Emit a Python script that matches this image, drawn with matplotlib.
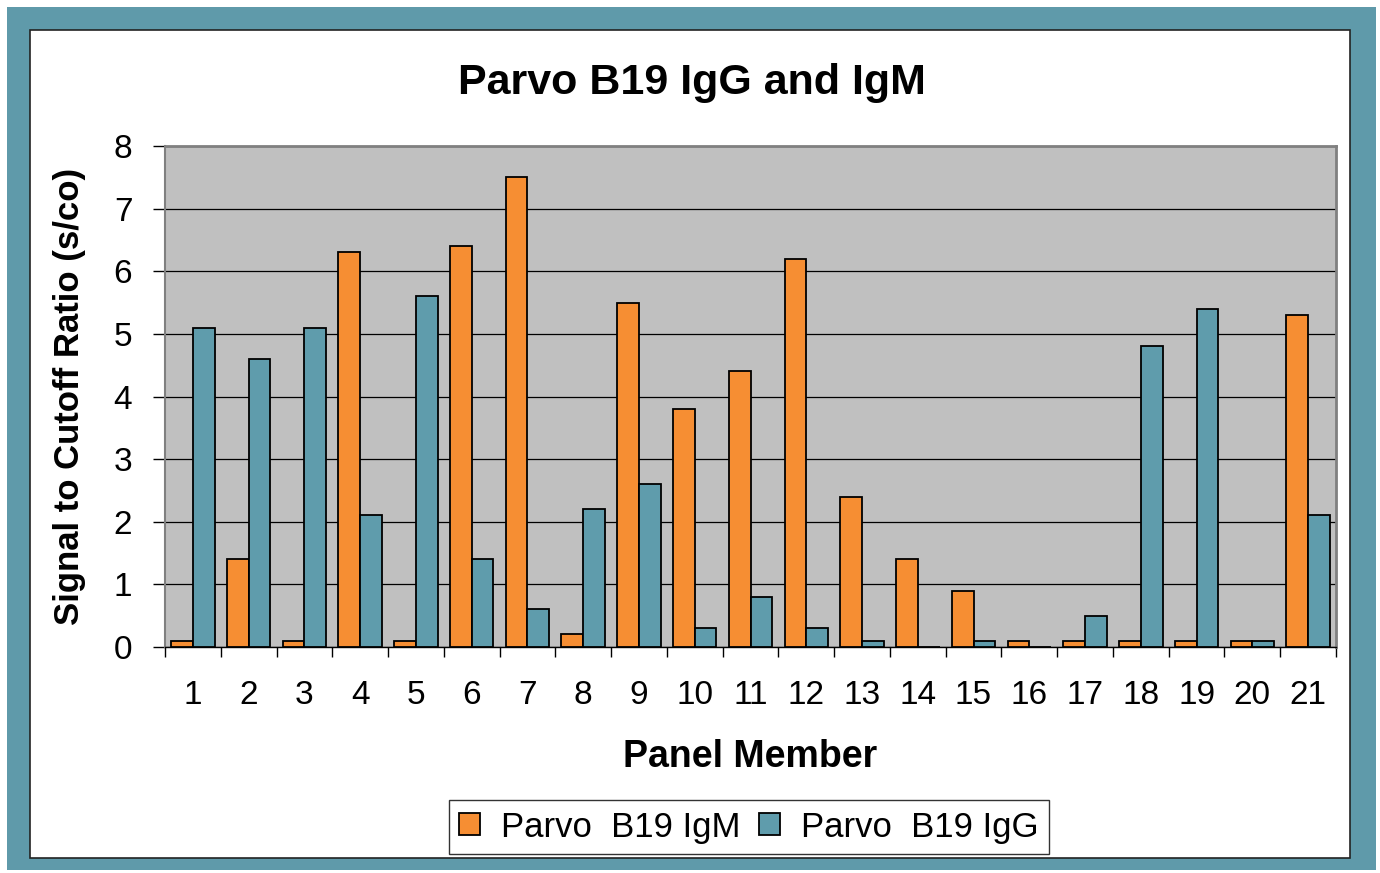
import matplotlib.pyplot as plt
import matplotlib.patches as patches
import numpy as np

plt.rcParams['font.family'] = ['Liberation Sans', 'DejaVu Sans']

members = [str(i) for i in range(1, 22)]
igm = [0.1, 1.4, 0.1, 6.3, 0.1, 6.4, 7.5, 0.2, 5.5, 3.8, 4.4,
       6.2, 2.4, 1.4, 0.9, 0.1, 0.1, 0.1, 0.1, 0.1, 5.3]
igg = [5.1, 4.6, 5.1, 2.1, 5.6, 1.4, 0.6, 2.2, 2.6, 0.3, 0.8,
       0.3, 0.1, 0.0, 0.1, 0.0, 0.5, 4.8, 5.4, 0.1, 2.1]

orange = '#F68E33'
teal = '#5F9CAC'
border_teal = '#5F9AAA'

fig = plt.figure(figsize=(13.8, 8.73), dpi=100)
fig.patch.set_facecolor('white')

# teal frame and white inner panel
fig.patches.append(patches.Rectangle((7/1380, 3/873), 1369/1380, 863/873,
                                     transform=fig.transFigure, facecolor=border_teal,
                                     edgecolor='none', zorder=-2))
fig.patches.append(patches.Rectangle((30/1380, 15/873), 1320/1380, 828/873,
                                     transform=fig.transFigure, facecolor='white',
                                     edgecolor='#222222', linewidth=1.2, zorder=-1))

ax = fig.add_axes([165/1380, 1 - 647/873, 1171/1380, 501/873])
ax.set_facecolor('#C0C0C0')

x = np.arange(len(members))
w = 0.39
ax.bar(x - w/2, igm, w, color=orange, edgecolor='black', linewidth=1.3,
       label='Parvo  B19 IgM', zorder=3)
ax.bar(x + w/2, igg, w, color=teal, edgecolor='black', linewidth=1.3,
       label='Parvo  B19 IgG', zorder=3)

ax.set_xlim(-0.5, len(members) - 0.5)
ax.set_ylim(0, 8)
ax.set_yticks(range(0, 9))
ax.yaxis.grid(True, color='black', linewidth=0.9, zorder=1)
ax.set_axisbelow(True)

ax.set_xticks(x)
ax.set_xticklabels(members)
ax.set_xticks(np.arange(-0.5, len(members), 1), minor=True)
ax.tick_params(axis='x', which='major', length=0, labelsize=24, pad=24)
ax.tick_params(axis='x', which='minor', length=7.5, width=1, color='black')
ax.tick_params(axis='y', length=8.5, width=1, color='black', labelsize=24, pad=15)

for s in ['top', 'right']:
    ax.spines[s].set_color('#808080')
    ax.spines[s].set_linewidth(2)
ax.spines['left'].set_color('#808080')
ax.spines['left'].set_linewidth(1.5)
ax.spines['bottom'].set_color('black')
ax.spines['bottom'].set_linewidth(1)

ax.set_xlabel('Panel Member', fontsize=27, fontweight='bold')
ax.xaxis.set_label_coords(0.5, (647 - 757) / 501)
ax.xaxis.label.set_verticalalignment('center')
ax.set_ylabel('Signal to Cutoff Ratio (s/co)', fontsize=25, fontweight='bold')
ax.yaxis.set_label_coords((70 - 165) / 1171, 0.5)
ax.yaxis.label.set_verticalalignment('center')

fig.text(692/1380, 1 - 83/873, 'Parvo B19 IgG and IgM', fontsize=31, fontweight='bold',
         ha='center', va='center')

leg = fig.legend(loc='center', bbox_to_anchor=(749/1380, 1 - 827/873), ncol=2,
                 fontsize=25, frameon=True, fancybox=False, edgecolor='black',
                 handlelength=0.6, handleheight=0.6, handletextpad=0.6,
                 columnspacing=0.55, borderpad=0.3)
leg.get_frame().set_linewidth(1)

fig.savefig('out.png', dpi=100)
